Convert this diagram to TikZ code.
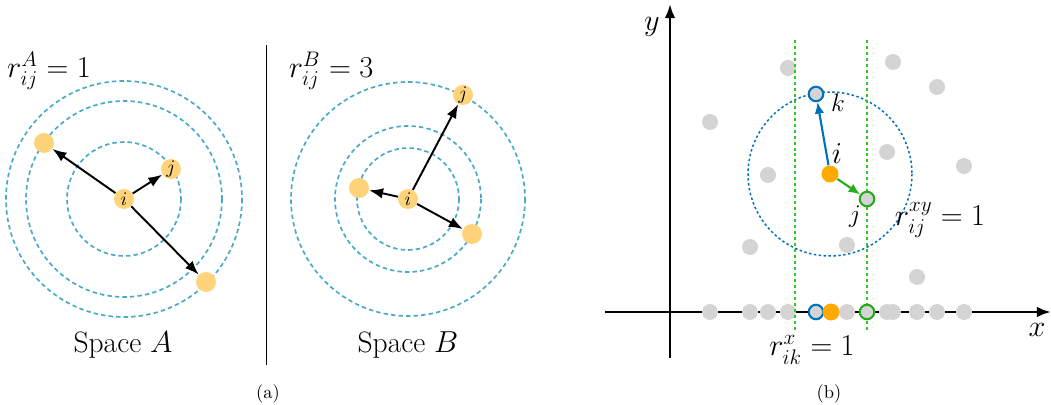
\documentclass[tikz,border=0pt]{standalone}
\usepackage{amsmath,amssymb}
\usepackage{xcolor}
\usepackage{tikz}
\usetikzlibrary{arrows.meta}

\definecolor{dotyellow}{RGB}{255,211,122}
\definecolor{ringteal}{RGB}{72,170,198}
\definecolor{dotgray}{RGB}{212,212,212}
\definecolor{iorange}{RGB}{255,170,0}
\definecolor{kblue}{RGB}{0,114,189}
\definecolor{jgreen}{RGB}{40,172,30}
\definecolor{linegreen}{RGB}{50,200,40}

\newcommand{\biglabel}{\fontsize{16.8}{19}\selectfont}
\newcommand{\midlabel}{\fontsize{13.5}{16}\selectfont}

\begin{document}
\begin{tikzpicture}[x=0.02cm, y=-0.02cm, >=Latex,
    adot/.style={circle, fill=dotyellow, inner sep=0pt, minimum size=0.4cm, font=\fontsize{11}{13}\selectfont},
    gdot/.style={circle, fill=dotgray, inner sep=0pt, minimum size=0.32cm},
    idot/.style={circle, fill=iorange, inner sep=0pt, minimum size=0.34cm},
    kring/.style={circle, draw=kblue, fill=dotgray, line width=1.2pt, inner sep=0pt, minimum size=0.29cm},
    jring/.style={circle, draw=jgreen, fill=dotgray, line width=1.2pt, inner sep=0pt, minimum size=0.29cm},
    ringa/.style={draw=ringteal, line width=0.95pt, dash pattern=on 2.5pt off 1.8pt},
    arr/.style={->, line width=1.1pt, black},
    axis/.style={->, line width=1.5pt, >={Latex[length=8pt, width=6pt]}}]
    \useasboundingbox (0,0) rectangle (1051,405);

    % (a) Space A
    \draw[ringa] (124,199) circle[radius=57];
    \draw[ringa] (124,199) circle[radius=98];
    \draw[ringa] (124,199) circle[radius=118];
    \node (ia) [adot] at (124,199) {$i$};
    \node (ja) [adot] at (171,169) {$j$};
    \node (pa1) [adot] at (44,143) {};
    \node (pa2) [adot] at (206,282) {};
    \draw[arr] (ia) -- (ja);
    \draw[arr] (ia) -- (pa1);
    \draw[arr] (ia) -- (pa2);
    \node (rA) [font=\biglabel] at (49,71) {$r^A_{ij} = 1$};
    \node (spA) [font=\biglabel, anchor=base] at (123,352) {Space $A$};

    % separator
    \draw[line width=1pt] (266.5,45) -- (266.5,365);

    % (a) Space B
    \draw[ringa] (408,199) circle[radius=51];
    \draw[ringa] (408,199) circle[radius=73];
    \draw[ringa] (408,199) circle[radius=117];
    \node (ib) [adot] at (408,199) {$i$};
    \node (jb) [adot] at (463,95) {$j$};
    \node (pb1) [adot] at (359,188) {};
    \node (pb2) [adot] at (472,234) {};
    \draw[arr] (ib) -- (jb);
    \draw[arr] (ib) -- (pb1);
    \draw[arr] (ib) -- (pb2);
    \node (rB) [font=\biglabel] at (331,71) {$r^B_{ij} = 3$};
    \node (spB) [font=\biglabel, anchor=base] at (408,352) {Space $B$};

    \node (capa) [anchor=base, font=\fontsize{10.5}{12}\selectfont] at (268,398) {(a)};

    % (b) axes
    \draw[axis] (605,312) -- (1051,312);
    \draw[axis] (670,358) -- (670,4);
    \node (xlab) [font=\biglabel] at (1037,330) {$x$};
    \node (ylab) [font=\biglabel] at (652,27) {$y$};

    % neighbourhood circle
    \draw[draw=kblue, line width=0.85pt, dash pattern=on 1.4pt off 1.4pt] (830,174) circle[radius=82];

    % gray points and their projections
    \foreach \px/\py in {788/68, 893/62, 937/87, 710/122, 887/152, 768/175, 964/166, 750/247, 847/245, 917/277} {
        \node (g\px) [gdot] at (\px,\py) {};
        \node (gx\px) [gdot] at (\px,312) {};
    }

    % x-range lines
    \draw[linegreen, line width=0.9pt, dash pattern=on 1.7pt off 1.7pt] (795,40) -- (795,332);
    \draw[linegreen, line width=0.9pt, dash pattern=on 1.7pt off 1.7pt] (867,40) -- (867,332);

    \node (kx) [kring] at (816,312) {};
    \node (ix) [idot] at (831,312) {};
    \node (jx) [jring] at (867,312) {};

    \node (kp) [kring] at (816,94) {};
    \node (jp) [jring] at (867,199) {};
    \node (ip) [idot] at (830,174) {};
    \draw[->, kblue, line width=1.2pt, >={Latex[length=6.5pt, width=5.5pt]}] (ip) -- (kp);
    \draw[->, jgreen, line width=1.2pt, >={Latex[length=6.5pt, width=5.5pt]}] (ip) -- (jp);

    \node (ilab) [font=\biglabel] at (837,154) {$i$};
    \node (klab) [font=\midlabel] at (838,103) {$k$};
    \node (jlab) [font=\midlabel] at (855,217) {$j$};
    \node (rxy) [font=\biglabel] at (940,220) {$r^{xy}_{ij} = 1$};
    \node (rx) [font=\biglabel] at (812,350) {$r^{x}_{ik} = 1$};

    \node (capb) [anchor=base, font=\fontsize{10.5}{12}\selectfont] at (829,398) {(b)};
\end{tikzpicture}
\end{document}
